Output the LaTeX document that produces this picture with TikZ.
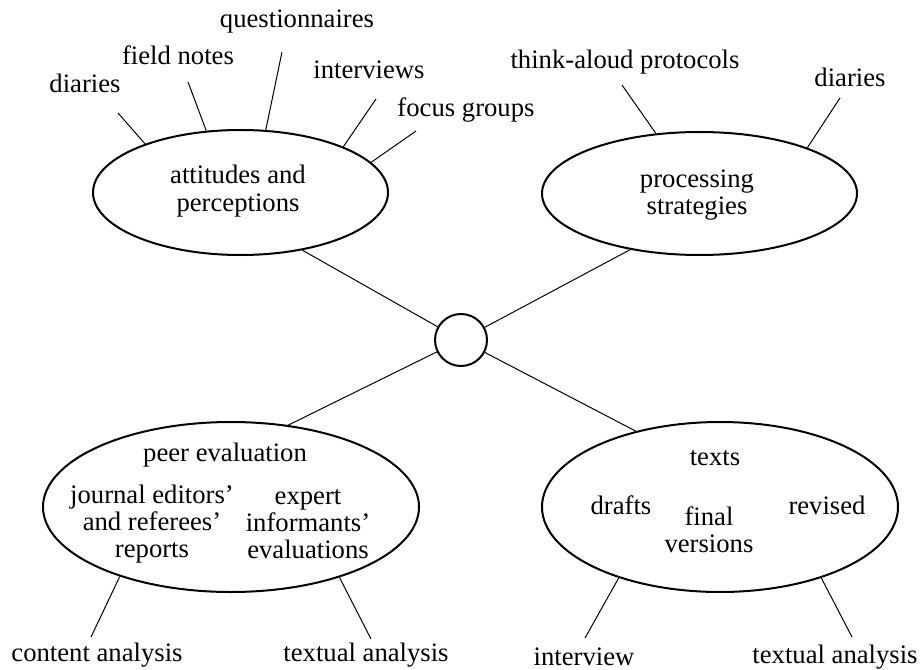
\documentclass[tikz,border=0pt]{standalone}
\usepackage{fontspec}
\setmainfont{Liberation Serif}
\usetikzlibrary{shapes.geometric}
\begin{document}
\begin{tikzpicture}[x=0.75pt,y=-0.75pt,
  lbl/.style={inner sep=0pt, font=\fontsize{20}{20.5}\selectfont, align=center},
  oval/.style={ellipse, draw, line width=1.5pt, inner sep=0pt},
  spoke/.style={line width=0.75pt}
]
\useasboundingbox (0,0) rectangle (920,670);

% ovals
\node[oval, minimum width=221.25pt, minimum height=93.75pt] (tl) at (240.5,192.5) {};
\node[oval, minimum width=236.25pt, minimum height=92.25pt] (tr) at (699.5,193.5) {};
\node[oval, minimum width=282pt, minimum height=127.5pt] (bl) at (231,507) {};
\node[oval, minimum width=267pt, minimum height=127.5pt] (br) at (720,507) {};
\node[circle, draw, line width=1.5pt, inner sep=0pt, minimum size=39pt] (hub) at (461,340) {};

% texts inside ovals
\node[lbl, font=\fontsize{20}{21}\selectfont] (tltxt) at (238,191) {attitudes and\\perceptions};
\node[lbl] (trtxt) at (697,195) {processing\\strategies};
\node[lbl] (peer) at (225,455) {peer evaluation};
\node[lbl] (journal) at (152,524) {journal editors’\\and referees’\\reports};
\node[lbl] (expert) at (308,524) {expert\\informants’\\evaluations};
\node[lbl] (texts) at (715,458) {texts};
\node[lbl] (drafts) at (621,505) {drafts};
\node[lbl] (final) at (709,530) {final\\versions};
\node[lbl] (revised) at (827,505) {revised};

% outer labels
\node[lbl] (ldiaries) at (85,83) {diaries};
\node[lbl] (lfield) at (178,55) {field notes};
\node[lbl] (lquest) at (297,22) {questionnaires};
\node[lbl] (linterv) at (369,70) {interviews};
\node[lbl] (lfocus) at (466,110) {focus groups};
\node[lbl] (lthink) at (625,62) {think-aloud protocols};
\node[lbl] (ldiaries2) at (850,77) {diaries};
\node[lbl] (lcontent) at (97,655) {content analysis};
\node[lbl] (ltextual) at (366,655) {textual analysis};
\node[lbl] (linterview) at (584,657) {interview};
\node[lbl] (ltextual2) at (835,657) {textual analysis};

% free ends of spokes
\coordinate (e1) at (118,113);
\coordinate (e2) at (188,82);
\coordinate (e3) at (282,52);
\coordinate (e4) at (376,99);
\coordinate (e5) at (416,131);
\coordinate (e6) at (622,85);
\coordinate (e7) at (840,98);
\coordinate (e8) at (91,637);
\coordinate (e9) at (371,639);
\coordinate (e10) at (585,638);
\coordinate (e11) at (852,637);

% spokes
\draw[spoke] (tl.153.8) -- (e1);
\draw[spoke] (tl.119.9) -- (e2);
\draw[spoke] (tl.68.4) -- (e3);
\draw[spoke] (tl.24.7) -- (e4);
\draw[spoke] (tl.13.4) -- (e5);
\draw[spoke] (tr.126.3) -- (e6);
\draw[spoke] (tr.23) -- (e7);
\draw[spoke] (bl.212.8) -- (e8);
\draw[spoke] (bl.-33.1) -- (e9);
\draw[spoke] (br.215) -- (e10);
\draw[spoke] (br.-35.2) -- (e11);

% hub connectors
\draw[spoke] (tl.-43) -- (hub);
\draw[spoke] (tr.219) -- (hub);
\draw[spoke] (bl.55.8) -- (hub);
\draw[spoke] (br.138.5) -- (hub);
\end{tikzpicture}
\end{document}
